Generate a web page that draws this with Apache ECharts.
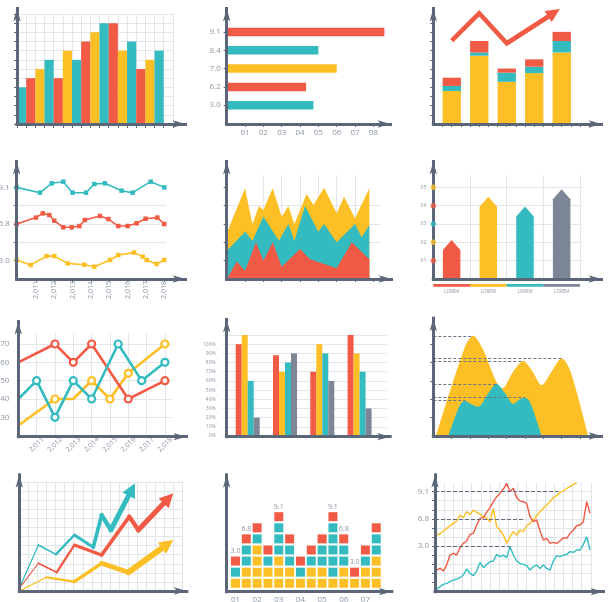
<!DOCTYPE html>
<html><head><meta charset="utf-8">
<script src="https://cdn.jsdelivr.net/npm/echarts@6/dist/echarts.min.js"></script>
<style>html,body{margin:0;padding:0;background:#fff}#c{width:612px;height:602px}</style>
</head><body><div id="c"></div>
<script>
// ---------------- DATA ----------------
const P1_CATEGORIES = ['1','2','3','4','5','6','7','8','9','10','11','12','13','14','15','16'];
const P1_VALUES = [4,5,6,7,5,8,7,9,10,11,11,8,9,6,7,8];

const P2_CATEGORIES = ['3.0','6.2','7.0','8.4','9.1'];
const P2_VALUES = [4.73,4.33,6.0,5.0,8.6];
const P2_X_TICKS = [1,2,3,4,5,6,7,8];
const P2_X_LABELS = ['01','02','03','04','05','06','07','08'];

const P3_CATEGORIES = ['1','2','3','4','5'];
const P3_YELLOW = [3.6,7.45,4.6,5.55,7.8];
const P3_TEAL = [0.55,0.35,1.0,0.7,1.25];
const P3_RED = [0.9,1.25,0.45,0.8,1.0];
const P3_TREND = [[1,9.09],[2,12.07],[3,8.8],[4.72,12.13]];

const P4_YEARS = [2011,2012,2013,2014,2015,2016,2017,2018];
const P4_Y_TICKS = [1,2,3,4,5];
const P4_Y_LABEL_POS = [1,3,5];
const P4_Y_LABELS = ['3.0','6.8','9.1'];
const P4_TEAL = [[2009.95,5.0],[2011.22,4.71],[2011.86,5.22],[2012.49,5.31],[2013.0,4.71],[2013.73,4.71],[2014.18,5.18],[2014.76,5.22],[2015.67,4.82],[2016.27,4.71],[2017.26,5.31],[2018.0,5.0]];
const P4_RED = [[2009.95,3.0],[2011.0,3.35],[2011.37,3.58],[2011.73,3.49],[2012.0,3.18],[2012.49,2.82],[2012.95,2.82],[2013.37,2.89],[2013.67,3.22],[2014.49,3.44],[2014.95,3.27],[2015.49,2.89],[2016.0,2.89],[2016.49,3.04],[2016.98,3.29],[2017.62,3.35],[2018.0,3.0]];
const P4_YELLOW = [[2009.95,1.04],[2010.71,0.76],[2011.58,1.25],[2012.0,1.25],[2012.73,0.85],[2013.64,0.78],[2014.18,0.67],[2015.04,1.04],[2015.49,1.31],[2016.35,1.44],[2016.82,1.22],[2017.04,1.04],[2017.58,0.82],[2018.0,1.04]];

const P5_X_TICKS = [1,2,3,4,5,6,7,8];
const P5_Y_TICKS = [1,2,3,4,5];
const P5_YELLOW = [[0.05,2.62],[1.0,4.95],[1.4,3.0],[1.76,3.98],[2.0,3.76],[2.51,4.95],[3.0,3.4],[3.36,3.98],[3.69,3.0],[4.36,4.64],[4.73,4.04],[5.31,4.98],[6.0,3.58],[6.4,4.49],[7.0,3.31],[7.78,4.95]];
const P5_TEAL = [[0.05,1.58],[1.0,2.58],[1.4,2.09],[2.0,3.4],[2.85,2.09],[3.36,3.0],[3.69,2.09],[4.27,3.98],[5.0,2.58],[5.31,3.0],[6.0,2.0],[7.0,3.0],[7.36,2.27],[7.78,2.95]];
const P5_RED = [[0.05,0.07],[0.55,0.95],[1.0,0.45],[1.6,2.0],[2.0,1.0],[2.51,2.0],[3.0,0.67],[4.0,1.64],[4.55,1.07],[6.0,0.58],[6.82,2.0],[7.78,1.07]];

const P6_CATEGORIES = ['LOREM','LOREM','LOREM','LOREM'];
const P6_POSITIONS = [0.5,1.5,2.5,3.5];
const P6_VALUES = [2.13,4.49,3.95,4.89];
const P6_LEVELS = [1,2,3,4,5];
const P6_LEVEL_LABELS = ['01','02','03','04','05'];

const P7_YEARS = [2011,2012,2013,2014,2015,2016,2017,2018];
const P7_Y_TICKS = [30,40,50,60,70];
const P7_RED = [[2010,60],[2012,70],[2013,60],[2014,70],[2016,40],[2018,50]];
const P7_TEAL = [[2010,40],[2011,50],[2012,30],[2013,50],[2014,40],[2015.45,70],[2016.73,50],[2018,60]];
const P7_YELLOW = [[2010,25.5],[2012,40],[2013,40],[2014,50],[2015,40],[2016,54],[2018,70]];

const P8_GROUPS = [1,2,3,4];
const P8_RED = [100,88,70,110];
const P8_YELLOW = [110,70,100,90];
const P8_TEAL = [60,80,90,70];
const P8_GRAY = [20,90,60,30];

const P9_X_TICKS = [1,2,3,4,5,6,7,8];
const P9_Y_TICKS = [1,2,3,4,5];
const P9_YELLOW = [[0.15,0],[1.73,4.87],[2.18,5.47],[2.64,4.87],[3.78,2.6],[4.36,3.51],[4.91,4.09],[5.42,3.51],[5.91,2.78],[6.45,3.51],[7.0,4.24],[7.49,3.51],[8.45,0]];
const P9_TEAL = [[0.82,0],[1.45,1.69],[1.73,1.93],[2.0,1.78],[2.45,1.6],[3.0,2.33],[3.45,2.84],[3.91,2.33],[4.36,1.75],[4.73,2.02],[5.0,2.09],[5.27,1.87],[5.91,0]];
const P9_PEAKS = [[2.18,5.47],[4.91,4.09],[7.0,4.24],[3.45,2.84],[5.0,2.09],[1.73,1.93]];

const P10_TEAL = [[0,0.3],[2.1,5.07],[4.04,4.04],[6.07,6.18],[8.16,4.82],[9.08,8.38],[10.1,6.73],[12.41,11.2]];
const P10_RED = [[0,0.3],[2.1,3.05],[4.12,2.06],[6.07,5.07],[9.08,3.97],[12.13,8.2],[13.13,6.73],[16.45,10.22]];
const P10_YELLOW = [[0,0],[3.01,1.51],[6.07,1.03],[9.08,3.05],[12.02,2.06],[16.36,5.18]];

const P11_STACKS = ['YTR','YYTTR','YYYYTR','YYTR','YYYTTTR','YYTTR','YTR','YYTR','YYTTR','YTTTTTR','YYTTR','YR','YYTR','YYYTTR'];
const P11_TOP_LABELS = ['3.0','6.8','','','9.1','','','','','9.1','6.8','3.0','',''];
const P11_LABEL_COLS = [1,3,5,7,9,11,13];
const P11_X_LABELS = ['01','02','03','04','05','06','07'];

const P12_RED = [2.38,2.56,2.27,2.93,4.03,4.21,4.03,4.84,5.31,5.57,6.3,6.41,7.33,8.06,8.13,8.72,9.23,9.89,10.44,10.81,11.28,11.9,10.99,11.36,10.33,9.96,9.89,9.71,8.24,7.69,7.88,6.67,5.68,5.86,5.31,5.42,5.31,5.57,5.93,5.86,6.41,6.78,7.25,7.33,7.69,9.89,8.61];
const P12_YELLOW = [6.23,6.37,6.67,6.96,7.25,7.51,7.77,8.42,8.13,8.79,8.5,8.97,8.72,8.5,8.24,8.06,7.69,9.16,7.14,6.78,6.23,5.31,6.04,6.59,6.23,6.78,6.59,7.25,7.51,7.88,8.35,8.79,9.16,9.52,9.89,10.33,10.55,10.92,11.06,11.36,11.54,11.79,11.95];
const P12_TEAL = [0.29,0.55,0.81,0.92,1.1,1.28,1.39,1.54,1.83,2.49,2.01,1.76,2.27,3.22,2.64,3.0,3.3,3.37,4.1,3.85,4.03,3.74,4.95,4.03,3.37,3.11,3.0,2.86,2.38,2.75,2.93,2.56,2.93,2.56,2.38,3.37,3.96,3.85,4.03,4.1,4.4,4.32,4.58,4.58,5.2,6.04,4.58];
const P12_Y_TICKS = [1,2,3,4,5,6,7,8,9,10,11];
const P12_Y_LABEL_POS = [5,8,11];
const P12_Y_LABELS = ['3.0','6.8','9.1'];
const P12_GUIDES = [[11,37],[8,27],[5,23]];

// ---------------- STYLE ----------------
const RED='#F15A45', YELLOW='#FDBF26', TEAL='#34BBC0', GRAY='#7C8696';
const AX='#5B6678', GRID='#E2E5E9', TXT='#8C96A3';
const FONT="'Open Sans','DejaVu Sans',sans-serif";
const CYCLE=[TEAL,RED,YELLOW];
const AH=13, AW=5.5;

const grids=[], xAxes=[], yAxes=[], series=[];
function addGrid(l,t,w,h){grids.push({left:l,top:t,width:w,height:h,containLabel:false,outerBoundsMode:'none'});return grids.length-1;}
const base=()=>({axisLine:{show:false,onZero:false},axisTick:{show:false},axisLabel:{show:false},splitLine:{show:false}});
function addX(g,o){xAxes.push(Object.assign({gridIndex:g,type:'value'},base(),o));return xAxes.length-1;}
function addY(g,o){yAxes.push(Object.assign({gridIndex:g,type:'value'},base(),o));return yAxes.length-1;}
const split=e=>Object.assign({show:true,lineStyle:{color:GRID,width:1}},e||{});
const ticks=e=>Object.assign({show:true,length:3,lineStyle:{color:AX,width:1}},e||{});
const labels=e=>Object.assign({show:true,color:TXT,fontSize:8,fontFamily:FONT},e||{});
function arrowAxes(ox,oy,tx,ty,t){
  t=t||{};
  const w=tx-AH/2-ox, h=oy-(ty+AH/2);
  const g=addGrid(ox,ty+AH/2,w,h);
  const ux=t.ux||1, uy=t.uy||1;
  const line=()=>({show:true,onZero:false,symbol:['none','arrow'],symbolSize:[AW,AH],lineStyle:{color:AX,width:3,cap:'square'}});
  const tk=v=>v?{show:true,customValues:v,length:3,lineStyle:{color:AX,width:1}}:{show:false};
  addX(g,{min:0,max:w/ux,z:5,axisLine:line(),axisTick:tk(t.xt)});
  addY(g,{min:0,max:h/uy,z:5,axisLine:line(),axisTick:tk(t.yt)});
}
const range=(a,b)=>{const r=[];for(let i=a;i<=b;i++)r.push(i);return r;};

// ---------------- PANEL 1 ----------------
arrowAxes(17,124,192,2);
(function(){
  const g=addGrid(17,14,155.9,110);
  const xi=addX(g,{type:'category',data:P1_CATEGORIES.concat(['']),boundaryGap:true,axisTick:ticks({interval:0,length:4}),splitLine:split({interval:0})});
  const yi=addY(g,{min:0,max:12,interval:1,axisTick:ticks(),splitLine:split()});
  series.push({type:'bar',xAxisIndex:xi,yAxisIndex:yi,barCategoryGap:'0%',data:P1_VALUES.map((v,i)=>({value:v,itemStyle:{color:CYCLE[i%3]}}))});
})();

// ---------------- PANEL 2 ----------------
arrowAxes(226.7,124,397,2);
(function(){
  const g=addGrid(226.7,22.85,165,91.5);
  const xi=addX(g,{min:0,max:9,interval:1,offset:9.65,axisTick:ticks({customValues:P2_X_TICKS}),axisLabel:labels({customValues:P2_X_TICKS,formatter:v=>P2_X_LABELS[P2_X_TICKS.indexOf(v)],margin:5})});
  const yi=addY(g,{type:'category',data:P2_CATEGORIES,axisTick:ticks({alignWithLabel:true,interval:0}),axisLabel:labels({margin:6,interval:0})});
  series.push({type:'bar',xAxisIndex:xi,yAxisIndex:yi,barWidth:8.5,data:P2_VALUES.map((v,i)=>({value:v,itemStyle:{color:CYCLE[i%3]}}))});
})();

// ---------------- PANEL 3 ----------------
arrowAxes(433.3,124,608,2,{ux:9.17,uy:9.17,xt:range(1,17),yt:range(1,11)});
(function(){
  const g=addGrid(438,4.8,137.5,119.2);
  const xc=addX(g,{type:'category',data:P3_CATEGORIES});
  const xv=addX(g,{min:0.5,max:5.5,position:'top'});
  const yi=addY(g,{min:0,max:13});
  [[P3_YELLOW,YELLOW],[P3_TEAL,TEAL],[P3_RED,RED]].forEach(([d,c])=>{
    series.push({type:'bar',xAxisIndex:xc,yAxisIndex:yi,stack:'p3',barWidth:18.3,itemStyle:{color:c},data:d});
  });
  series.push({type:'line',xAxisIndex:xv,yAxisIndex:yi,data:P3_TREND,symbol:'none',color:RED,clip:false,z:4,
    lineStyle:{color:RED,width:4.5,join:'miter'},
    markLine:{silent:true,symbol:['none','triangle'],symbolSize:[13,14],label:{show:false},lineStyle:{color:RED,width:4.5,type:'solid'},
      data:[[{coord:P3_TREND[2]},{coord:P3_TREND[3]}]]}});
})();

// ---------------- PANEL 4 ----------------
arrowAxes(16.7,279,192,155);
(function(){
  const g=addGrid(16.7,178.2,149.4,100.8);
  const xi=addX(g,{min:2009.95,max:2018.1,axisTick:ticks({customValues:P4_YEARS}),axisLabel:labels({customValues:P4_YEARS,rotate:90,align:'center',verticalAlign:'middle',margin:11,fontSize:7})});
  const yi=addY(g,{min:0,max:5.5,interval:1,splitLine:split({showMinLine:false,showMaxLine:false}),axisTick:ticks({customValues:P4_Y_TICKS}),axisLabel:labels({customValues:P4_Y_LABEL_POS,formatter:v=>P4_Y_LABELS[P4_Y_LABEL_POS.indexOf(v)],margin:7})});
  [[P4_TEAL,TEAL],[P4_RED,RED],[P4_YELLOW,YELLOW]].forEach(([d,c])=>{
    series.push({type:'line',xAxisIndex:xi,yAxisIndex:yi,data:d,color:c,symbol:'rect',symbolSize:4.5,showAllSymbol:true,lineStyle:{color:c,width:1.6},itemStyle:{color:c},clip:false});
  });
})();

// ---------------- PANEL 5 ----------------
arrowAxes(226.7,279,398,155);
(function(){
  const g=addGrid(226.7,175,154,104);
  const xi=addX(g,{min:0,max:8.4,interval:1,splitLine:split({showMinLine:false,showMaxLine:false}),axisTick:ticks({customValues:P5_X_TICKS})});
  const yi=addY(g,{min:0,max:5.67,interval:1,splitLine:split({showMinLine:false,showMaxLine:false}),axisTick:ticks({customValues:P5_Y_TICKS})});
  [[P5_YELLOW,YELLOW],[P5_TEAL,TEAL],[P5_RED,RED]].forEach(([d,c])=>{
    series.push({type:'line',xAxisIndex:xi,yAxisIndex:yi,data:d,symbol:'none',lineStyle:{width:0},areaStyle:{color:c,opacity:1}});
  });
})();

// ---------------- PANEL 6 ----------------
arrowAxes(433.3,279,608,155);
(function(){
  const COLS=[RED,YELLOW,TEAL,GRAY], DOTS=[RED,YELLOW,TEAL,RED,YELLOW];
  const g=addGrid(433.3,175,146.7,104);
  const xi=addX(g,{min:0,max:4,interval:1,splitLine:split({showMinLine:false})});
  const yi=addY(g,{min:0,max:5.67,interval:1,splitLine:split({showMinLine:false,showMaxLine:false}),axisLabel:labels({customValues:P6_LEVELS,formatter:v=>P6_LEVEL_LABELS[P6_LEVELS.indexOf(v)],fontSize:5,margin:7})});
  series.push({type:'custom',xAxisIndex:xi,yAxisIndex:yi,data:P6_POSITIONS.map((x,i)=>[x,P6_VALUES[i]]),
    renderItem:(p,api)=>{const tip=api.coord([api.value(0),api.value(1)]),b=api.coord([api.value(0),0]);const hw=8.75,hh=10;
      return {type:'polygon',shape:{points:[[tip[0]-hw,b[1]],[tip[0]-hw,tip[1]+hh],[tip[0],tip[1]],[tip[0]+hw,tip[1]+hh],[tip[0]+hw,b[1]]]},style:{fill:COLS[p.dataIndex]}};}});
  series.push({type:'custom',xAxisIndex:xi,yAxisIndex:yi,clip:false,data:P6_POSITIONS.map(x=>[x,0]),
    renderItem:(p,api)=>{const l=api.coord([api.value(0)-0.5,0]),r=api.coord([api.value(0)+0.5,0]);
      return {type:'group',children:[
        {type:'rect',shape:{x:l[0],y:l[1]+5,width:r[0]-l[0],height:2.8},style:{fill:COLS[p.dataIndex]}},
        {type:'text',style:{text:P6_CATEGORIES[p.dataIndex],x:(l[0]+r[0])/2,y:l[1]+12.7,align:'center',verticalAlign:'middle',fontSize:4.5,fontFamily:FONT,fill:TXT}}]};}});
  series.push({type:'scatter',xAxisIndex:xi,yAxisIndex:yi,clip:false,z:10,symbolSize:5.5,data:P6_LEVELS.map((v,i)=>({value:[0,v],itemStyle:{color:DOTS[i]}}))});
})();

// ---------------- PANEL 7 ----------------
arrowAxes(18.3,436.7,193,315);
(function(){
  const g=addGrid(18.3,333,153.4,102.65);
  const xi=addX(g,{min:2010,max:2018.37,interval:1,splitLine:split({showMinLine:false,showMaxLine:false}),axisLabel:labels({customValues:P7_YEARS,rotate:45,align:'center',verticalAlign:'middle',margin:9,fontSize:7})});
  const yi=addY(g,{min:20,max:76,interval:10,splitLine:split({showMinLine:false,showMaxLine:false}),axisLabel:labels({customValues:P7_Y_TICKS,margin:9})});
  [[P7_YELLOW,YELLOW,[0,2]],[P7_RED,RED,[0]],[P7_TEAL,TEAL,[0]]].forEach(([d,c,noSym])=>{
    series.push({type:'line',xAxisIndex:xi,yAxisIndex:yi,data:d.map((p,i)=>noSym.includes(i)?{value:p,symbol:'none'}:{value:p}),color:c,
      symbol:'circle',symbolSize:7,showAllSymbol:true,lineStyle:{color:c,width:2.6},itemStyle:{color:'#fff',borderColor:c,borderWidth:2.2}});
  });
})();

// ---------------- PANEL 8 ----------------
arrowAxes(226.7,436.7,396.7,313);
(function(){
  const g=addGrid(226.7,335,160,101);
  const xi=addX(g,{min:0.437,max:4.727});
  const yi=addY(g,{min:0,max:110,interval:10,splitLine:split({showMinLine:false}),axisTick:{show:true,length:4,lineStyle:{color:GRID}},axisLabel:labels({fontSize:5,margin:11,formatter:v=>v<=100?v+'%':''})});
  [[P8_RED,RED],[P8_YELLOW,YELLOW],[P8_TEAL,TEAL],[P8_GRAY,GRAY]].forEach(([d,c])=>{
    series.push({type:'bar',xAxisIndex:xi,yAxisIndex:yi,barWidth:6,barGap:'0%',itemStyle:{color:c},data:P8_GROUPS.map((x,i)=>[x,d[i]])});
  });
})();

// ---------------- PANEL 9 ----------------
arrowAxes(433.3,436,608,311.7);
(function(){
  const g=addGrid(433.3,316.9,155.8,119.1);
  const xi=addX(g,{min:0,max:8.5,axisTick:ticks({customValues:P9_X_TICKS})});
  const yi=addY(g,{min:0,max:6.5,axisTick:ticks({customValues:P9_Y_TICKS})});
  [[P9_YELLOW,YELLOW],[P9_TEAL,TEAL]].forEach(([d,c])=>{
    series.push({type:'line',xAxisIndex:xi,yAxisIndex:yi,data:d,smooth:0.3,symbol:'none',lineStyle:{width:0},areaStyle:{color:c,opacity:1}});
  });
  series.push({type:'line',xAxisIndex:xi,yAxisIndex:yi,data:[],z:6,
    markLine:{silent:true,symbol:'none',label:{show:false},lineStyle:{color:'#6A7486',width:1,type:[3,2]},
      data:P9_PEAKS.map(p=>[{coord:[0,p[1]]},{coord:[p[0],p[1]]}])}});
})();

// ---------------- PANEL 10 ----------------
arrowAxes(19.3,591,193.3,468.3);
(function(){
  const g=addGrid(19.3,482.2,163.2,108.8);
  const xi=addX(g,{min:0,max:18,interval:1,splitLine:split({showMinLine:false})});
  const yi=addY(g,{min:0,max:12,interval:1,splitLine:split({showMinLine:false})});
  [[P10_YELLOW,YELLOW,1,6],[P10_RED,RED,1,5],[P10_TEAL,TEAL,1,5]].forEach(([d,c,w0,w1])=>{
    const n=d.length-1;
    const segs=[];
    for(let k=0;k<n;k++){
      const w=w0+(w1-w0)*k/(n-1);
      const last=k===n-1;
      segs.push([{coord:d[k],symbol:'none',lineStyle:{color:c,width:w,type:'solid',cap:'round'}},{coord:d[k+1],symbol:last?'triangle':'none',symbolSize:[14,14],itemStyle:{color:c}}]);
    }
    series.push({type:'line',xAxisIndex:xi,yAxisIndex:yi,data:d,color:c,symbol:'none',lineStyle:{color:c,width:1},
      markLine:{silent:true,symbol:'none',label:{show:false},data:segs}});
  });
})();

// ---------------- PANEL 11 ----------------
arrowAxes(226.7,591.7,398.3,468.3);
(function(){
  const g=addGrid(226.7,505.6,158.2,86.1);
  const xi=addX(g,{min:0.19,max:14.8,axisLabel:labels({customValues:P11_LABEL_COLS,formatter:v=>P11_X_LABELS[P11_LABEL_COLS.indexOf(v)],margin:4})});
  const yi=addY(g,{min:0.24,max:8});
  const cells={Y:[],T:[],R:[]};
  P11_STACKS.forEach((s,ci)=>{
    s.split('').forEach((ch,ri)=>{
      const item={value:[ci+1,ri+1]};
      if(ri===s.length-1&&P11_TOP_LABELS[ci]) item.label={show:true,formatter:P11_TOP_LABELS[ci],position:'top',distance:2,color:TXT,fontSize:7,fontFamily:FONT};
      cells[ch].push(item);
    });
  });
  [['Y',YELLOW],['T',TEAL],['R',RED]].forEach(([k,c])=>{
    series.push({type:'scatter',xAxisIndex:xi,yAxisIndex:yi,symbol:'rect',symbolSize:[9,9],itemStyle:{color:c,opacity:1},data:cells[k],clip:false});
  });
})();

// ---------------- PANEL 12 ----------------
arrowAxes(435,591.7,610,468.3);
(function(){
  const g=addGrid(435,482.5,156.7,109.2);
  const xi=addX(g,{min:0,max:47,interval:2.75,splitLine:split({showMinLine:false,showMaxLine:false})});
  const yi=addY(g,{min:0,max:12,interval:1,splitLine:split({showMinLine:false}),axisTick:ticks({customValues:P12_Y_TICKS}),axisLabel:labels({customValues:P12_Y_LABEL_POS,formatter:v=>P12_Y_LABELS[P12_Y_LABEL_POS.indexOf(v)],margin:6})});
  [[P12_YELLOW,YELLOW],[P12_RED,RED],[P12_TEAL,TEAL]].forEach(([d,c])=>{
    series.push({type:'line',xAxisIndex:xi,yAxisIndex:yi,data:d.map((v,i)=>[i+0.5,v]),symbol:'none',lineStyle:{color:c,width:1.4},clip:false});
  });
  series.push({type:'line',xAxisIndex:xi,yAxisIndex:yi,data:[],z:1,
    markLine:{silent:true,symbol:'none',label:{show:false},lineStyle:{color:'#5F6A7B',width:1.2,type:[4,2]},
      data:P12_GUIDES.map(([y,x])=>[{coord:[0,y]},{coord:[x,y]}])}});
})();

const chart=echarts.init(document.getElementById('c'),null,{renderer:'canvas'});
chart.setOption({animation:false,backgroundColor:'#fff',textStyle:{fontFamily:FONT},grid:grids,xAxis:xAxes,yAxis:yAxes,series:series});
</script></body></html>
